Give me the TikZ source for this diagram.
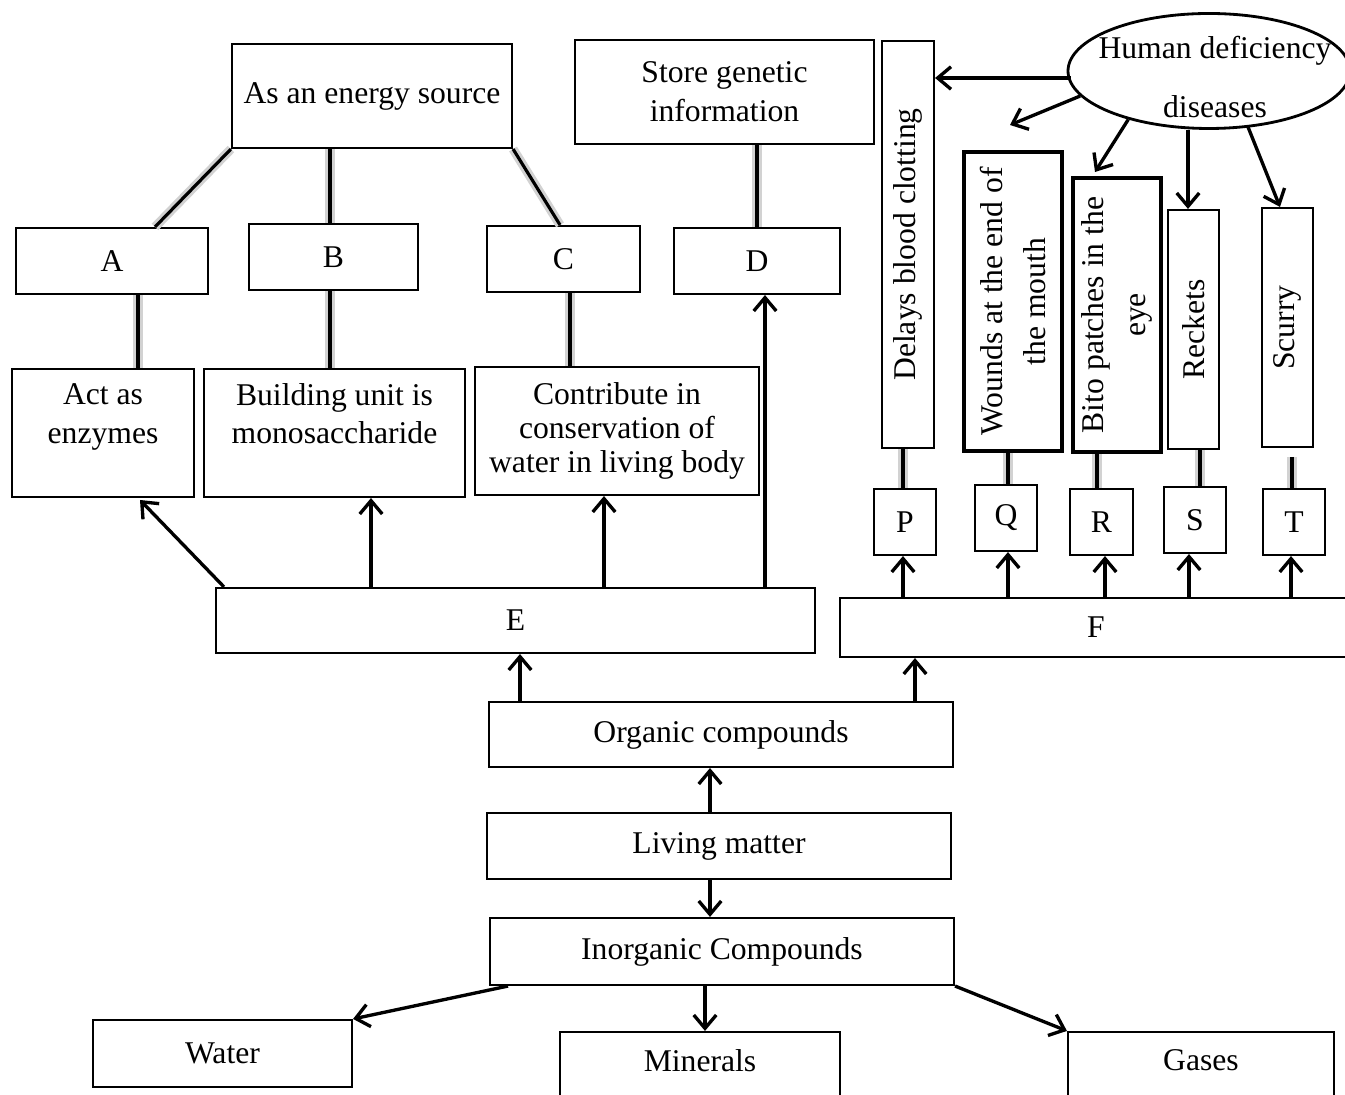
\documentclass[tikz,border=0pt]{standalone}
\usepackage{fontspec}
\setmainfont{Liberation Serif}
\usetikzlibrary{arrows.meta, shapes.geometric}

\begin{document}
\begin{tikzpicture}[
    x=0.01cm, y=-0.01cm,
    every node/.style={font=\fontsize{9}{11}\selectfont},
    >={Straight Barb[length=3.8pt, width=6.4pt]},
    box/.style={draw, line width=0.6pt, inner sep=0pt, align=center},
    boldbox/.style={box, line width=1.2pt},
    boxsize/.style 2 args={minimum width={#1*0.01cm}, minimum height={#2*0.01cm}},
    arr/.style={->, line width=0.95pt},
    link/.style={line width=0.9pt, preaction={draw, gray!35, line width=2.6pt}},
]
\useasboundingbox (0,0) rectangle (1345,1095);

% === Top row: functions ===
\node[box, boxsize={280}{104}] (energy) at (372,96) {As an energy source};
\node[box, boxsize={299}{104}] (store) at (724.5,92) {Store genetic\\information};

% === Deficiency diseases (rotated boxes) ===
\node[box, rotate=90, boxsize={407}{52}] (delays) at (908,244.5) {Delays blood clotting};
\node[boldbox, rotate=90, boxsize={299}{98}] (wounds) at (1013,301.5) {Wounds at the end of\\[1pt]the mouth};
\node[boldbox, rotate=90, boxsize={274}{88}] (bito) at (1117,315) {Bito patches in the\\[1pt]eye};
\node[box, rotate=90, boxsize={239}{51}] (reckets) at (1193.5,329.5) {Reckets};
\node[box, rotate=90, boxsize={239}{51}] (scurry) at (1287.5,327.5) {Scurry};

% Ellipse (runs off the right edge)
\node[draw, ellipse, line width=0.8pt, inner sep=0pt, boxsize={282}{115}] (hdd) at (1209,71) {};
\node[align=center] (hddtext) at (1215,77) {Human deficiency\\[6pt]diseases};

% === Letter boxes A--D ===
\node[box, boxsize={192}{66}] (A) at (112,261) {A};
\node[box, boxsize={169}{66}] (B) at (333.5,257) {B};
\node[box, boxsize={153}{66}] (C) at (563.5,259) {C};
\node[box, boxsize={166}{66}] (D) at (757,261) {D};

% === Properties ===
\node[box, boxsize={182}{128}, text depth=11pt] (act) at (103,433) {Act as\\enzymes};
\node[box, boxsize={261}{128}, text depth=11pt] (build) at (334.5,433) {Building unit is\\monosaccharide};
\node[box, boxsize={284}{128}, font=\fontsize{9}{9.7}\selectfont] (contrib) at (617,431)
    {Contribute in\\conservation of\\water in living body};

% === Letter boxes P--T ===
\node[box, boxsize={62}{66}] (P) at (905,522) {P};
\node[box, boxsize={62}{66}] (Q) at (1006,518) {Q};
\node[box, boxsize={63}{66}] (R) at (1101.5,522) {R};
\node[box, boxsize={62}{66}] (S) at (1195,520) {S};
\node[box, boxsize={62}{66}] (T) at (1294,522) {T};

% === E and F ===
\node[box, boxsize={599}{65}] (E) at (515.5,620.5) {E};
\node[box, boxsize={512}{59}] (F) at (1096,627.5) {F};

% === Main chain ===
\node[box, boxsize={464}{65}] (organic) at (721,734.5) {Organic compounds};
\node[box, boxsize={464}{66}] (living) at (719,846) {Living matter};
\node[box, boxsize={464}{67}] (inorg) at (722,951.5) {Inorganic Compounds};

% === Inorganic kinds (run off the bottom edge) ===
\node[box, boxsize={259}{67}] (water) at (222.5,1053.5) {Water};
\node[box, boxsize={280}{78}, text depth=6pt] (minerals) at (700,1071) {Minerals};
\node[box, boxsize={266}{78}, text depth=6pt] (gases) at (1201,1071) {Gases};

% === Plain links ===
\draw[link] (energy.south west) -- (155,0 |- A.north);
\draw[link] (330,0 |- energy.south) -- (330,0 |- B.north);
\draw[link] (energy.south east) -- (560,0 |- C.north);
\draw[link] (D.north |- store.south) -- (D.north);
\draw[link] (138,0 |- A.south) -- (138,0 |- act.north);
\draw[link] (330,0 |- B.south) -- (330,0 |- build.north);
\draw[link] (570,0 |- C.south) -- (570,0 |- contrib.north);
\draw[link] (903,0 |- delays.west) -- (903,0 |- P.north);
\draw[link] (1008,0 |- wounds.west) -- (1008,0 |- Q.north);
\draw[link] (1097,0 |- bito.west) -- (1097,0 |- R.north);
\draw[link] (1200,0 |- reckets.west) -- (1200,0 |- S.north);
\draw[link] (1292,457) -- (1292,0 |- T.north);

% === Arrows from the ellipse ===
\coordinate (woundtip) at (1010,125);
\draw[arr] (1071,78) -- (1071,78 -| delays.south);
\draw[arr] (hdd.191) -- (woundtip);
\draw[arr] (hdd.211) -- (1095,172);
\draw[arr] (hdd.south -| 1188,0) -- (1188,0 |- reckets.east);
\draw[arr] (1248,127) -- (1280,0 |- scurry.east);

% === Arrows from E and F ===
\draw[arr] (224,0 |- E.north) -- (140,500);
\draw[arr] (371,0 |- E.north) -- (371,0 |- build.south);
\draw[arr] (604,0 |- E.north) -- (604,0 |- contrib.south);
\draw[arr] (765,0 |- E.north) -- (765,0 |- D.south);
\foreach \tgt/\xx in {P/903, Q/1008, R/1105, S/1189, T/1291} {
    \draw[arr] (\xx,0 |- F.north) -- (\xx,0 |- \tgt.south);
}

% === Main chain arrows ===
\draw[arr] (520,0 |- organic.north) -- (520,0 |- E.south);
\draw[arr] (915,0 |- organic.north) -- (915,0 |- F.south);
\draw[arr] (710,0 |- living.north) -- (710,0 |- organic.south);
\draw[arr] (710,0 |- living.south) -- (710,0 |- inorg.north);
\draw[arr] (508,0 |- inorg.south) -- (water.north east);
\draw[arr] (705,0 |- inorg.south) -- (705,0 |- minerals.north);
\draw[arr] (inorg.south east) -- (gases.north west);

\end{tikzpicture}
\end{document}
